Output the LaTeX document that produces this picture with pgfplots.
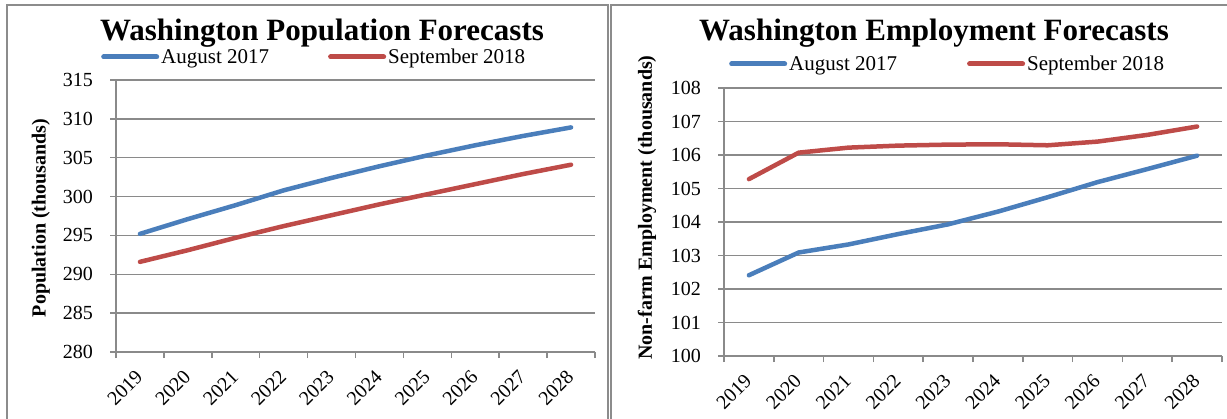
\documentclass[border=0pt]{standalone}
\usepackage{fontspec}
\setmainfont{Liberation Serif}
\usepackage{pgfplots}
\pgfplotsset{compat=1.18}
\definecolor{xlblue}{HTML}{4A7EBB}
\definecolor{xlred}{HTML}{BE4B48}
\definecolor{gridgray}{HTML}{8A8A8A}
\definecolor{framegray}{HTML}{8C8C8C}
\pgfplotsset{
  panel/.style={
    scale only axis,
    axis lines*=left,
    axis line style={gridgray, line width=1.5pt},
    tick style={gridgray, line width=1.5pt},
    tick align=outside,
    major tick length=6pt,
    minor tick length=6pt,
    major x tick style={draw=none},
    ymajorgrids,
    major grid style={gridgray, line width=1.5pt},
    xmin=2018.5, xmax=2028.5,
    xtick={2019,...,2028},
    minor xtick={2018.5,2019.5,2020.5,2021.5,2022.5,2023.5,2024.5,2025.5,2026.5,2027.5,2028.5},
    /pgf/number format/1000 sep={},
    /pgf/number format/assume math mode=true,
    ticklabel style={font=\fontsize{20}{24}\selectfont},
    xticklabel style={rotate=45, anchor=east, inner sep=1pt},
    xticklabel shift=15pt,
    yticklabel style={anchor=east, inner sep=0pt},
    yticklabel shift=17pt,
    legend columns=2,
    legend cell align=left,
    legend image code/.code={\draw[#1, line width=5pt, line cap=round] (1pt,0pt) -- (54pt,0pt);},
    every axis plot/.append style={line width=4.5pt, line cap=round, line join=round, mark=none},
  }
}
\begin{document}
\begin{tikzpicture}
\useasboundingbox (0,0) rectangle (1227pt,418pt);
\clip (0,0) rectangle (1227pt,418pt);
% panel frames
\draw[framegray, line width=2pt] (6.7pt,-10pt) rectangle (607.5pt,413pt);
\draw[framegray, line width=2pt] (610.7pt,-10pt) rectangle (1240pt,413pt);
% titles
\node[anchor=base, font=\bfseries\fontsize{31}{36}\selectfont, inner sep=0pt] at (322pt,377pt) {Washington Population Forecasts};
\node[anchor=base, font=\bfseries\fontsize{31}{36}\selectfont, inner sep=0pt] at (934pt,377pt) {Washington Employment Forecasts};

\begin{axis}[panel,
  at={(116pt,66pt)}, anchor=south west,
  width=479pt, height=272pt,
  ymin=280, ymax=315, ytick={280,285,...,315},
  every axis y label/.style={at={(axis description cs:-0.157,0.4926)}, rotate=90, anchor=center, font=\bfseries\fontsize{20}{24}\selectfont},
  ylabel={Population (thousands)},
  legend style={at={(axis description cs:-0.0313,1.0846)}, anchor=west, draw=none, fill=none, inner sep=0pt,
    font=\fontsize{21}{25}\selectfont, /tikz/every even column/.append style={column sep=57pt}},
]
\addplot[xlblue] coordinates {(2019,295.2) (2020,297.1) (2021,298.9) (2022,300.8) (2023,302.4) (2024,303.9) (2025,305.3) (2026,306.6) (2027,307.8) (2028,308.9)};
\addlegendentry{August 2017}
\addplot[xlred] coordinates {(2019,291.6) (2020,293.1) (2021,294.7) (2022,296.2) (2023,297.6) (2024,299.0) (2025,300.3) (2026,301.6) (2027,302.9) (2028,304.1)};
\addlegendentry{September 2018}
\end{axis}

\begin{axis}[panel,
  at={(724pt,62pt)}, anchor=south west,
  width=498pt, height=268pt,
  ymin=100, ymax=108, ytick={100,...,108},
  every axis y label/.style={at={(axis description cs:-0.1546,0.554)}, rotate=90, anchor=center, font=\bfseries\fontsize{20}{24}\selectfont},
  ylabel={Non-farm Employment (thousands)},
  legend style={at={(axis description cs:0.010,1.0896)}, anchor=west, draw=none, fill=none, inner sep=0pt,
    font=\fontsize{21}{25}\selectfont, /tikz/every even column/.append style={column sep=68pt}},
]
\addplot[xlblue] coordinates {(2019,102.41) (2020,103.09) (2021,103.33) (2022,103.64) (2023,103.93) (2024,104.31) (2025,104.74) (2026,105.19) (2027,105.58) (2028,105.98)};
\addlegendentry{August 2017}
\addplot[xlred] coordinates {(2019,105.28) (2020,106.07) (2021,106.22) (2022,106.28) (2023,106.31) (2024,106.32) (2025,106.29) (2026,106.40) (2027,106.60) (2028,106.85)};
\addlegendentry{September 2018}
\end{axis}
\end{tikzpicture}
\end{document}
